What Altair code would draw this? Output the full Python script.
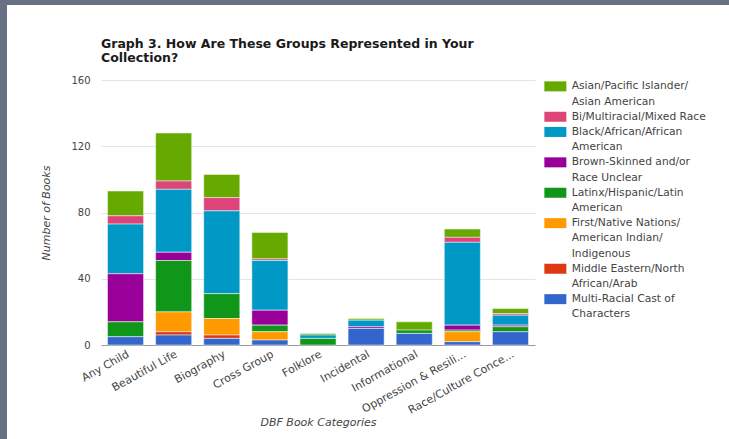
import altair as alt
import pandas as pd

categories = ["Any Child", "Beautiful Life", "Biography", "Cross Group", "Folklore",
              "Incidental", "Informational", "Oppression & Resili...", "Race/Culture Conce..."]

# '|' marks the line breaks of the legend labels
groups = ["Asian/Pacific Islander/|Asian American",
          "Bi/Multiracial/Mixed Race",
          "Black/African/African|American",
          "Brown-Skinned and/or|Race Unclear",
          "Latinx/Hispanic/Latin|American",
          "First/Native Nations/|American Indian/|Indigenous",
          "Middle Eastern/North|African/Arab",
          "Multi-Racial Cast of|Characters"]

colors = ["#66aa00", "#dd4477", "#0099c6", "#990099", "#109618", "#ff9900", "#dc3912", "#3366cc"]

asian    = [15, 29, 14, 16, 1, 1, 5, 5, 3]
bi       = [5, 5, 8, 1, 0, 0, 0, 3, 1]
black    = [30, 38, 50, 30, 2, 4, 0, 50, 6]
brown    = [29, 5, 0, 9, 0, 1, 0, 3, 1]
latinx   = [9, 31, 15, 4, 4, 0, 2, 1, 3]
native   = [0, 12, 10, 5, 0, 0, 0, 6, 0]
mideast  = [0, 2, 2, 0, 0, 0, 0, 0, 0]
multi    = [5, 6, 4, 3, 0, 10, 7, 2, 8]

series = [asian, bi, black, brown, latinx, native, mideast, multi]

rows = []
for i, (g, vals) in enumerate(zip(groups, series)):
    for c, v in zip(categories, vals):
        if v > 0:
            rows.append({"category": c, "group": g, "count": v, "rank": i})
df = pd.DataFrame(rows)

# legend: one entry per text line (continuation lines get no swatch)
legend_domain, legend_range = [], []
for g, col in zip(groups, colors):
    legend_domain.append(g)
    legend_range.append(col)
    for k in range(1, len(g.split("|"))):
        legend_domain.append(f"{g}||{k}")
        legend_range.append("rgba(0,0,0,0)")

label_expr = ("indexof(datum.label, '||') >= 0 ? "
              "split(split(datum.label, '||')[0], '|')[toNumber(split(datum.label, '||')[1])] : "
              "split(datum.label, '|')[0]")

W, H = 434, 265
FONT = "DejaVu Sans"
TXT = "#444444"

bars = alt.Chart(df).mark_bar(stroke="white", strokeWidth=0.5).encode(
    x=alt.X("category:N", sort=categories,
            scale=alt.Scale(paddingInner=0.25, paddingOuter=0.135),
            axis=alt.Axis(title="DBF Book Categories", labelAngle=-29, labelAlign="right",
                          labelBaseline="top", labelPadding=3, ticks=False,
                          domainColor="#999999", domainWidth=1,
                          labelFont=FONT, labelFontSize=11, labelColor=TXT,
                          titleFont=FONT, titleFontSize=11, titleFontStyle="italic",
                          titleFontWeight="normal", titleColor=TXT,
                          titleX=W / 2, titleY=77, titleBaseline="middle")),
    y=alt.Y("count:Q", stack="zero", scale=alt.Scale(domain=[0, 160], nice=False),
            axis=alt.Axis(title="Number of Books", values=[0, 40, 80, 120, 160],
                          domain=False, ticks=False, labelPadding=11,
                          gridColor="#e4e4e4", gridWidth=1,
                          labelFont=FONT, labelFontSize=10, labelColor=TXT,
                          titleFont=FONT, titleFontSize=11, titleFontStyle="italic",
                          titleFontWeight="normal", titleColor=TXT,
                          titleX=-50, titleY=H / 2, titleAngle=270)),
    color=alt.Color("group:N",
                    scale=alt.Scale(domain=legend_domain, range=legend_range),
                    legend=alt.Legend(title=None, orient="none", legendX=449, legendY=1,
                                      symbolType="M-2.2,-1H2.2V1H-2.2Z", symbolSize=100,
                                      symbolStrokeWidth=0,
                                      labelExpr=label_expr,
                                      labelFont=FONT, labelFontSize=10.7, labelColor=TXT,
                                      labelOffset=11, labelLimit=250,
                                      rowPadding=3.2)),
    order=alt.Order("rank:Q", sort="descending"),
)

frame_df = pd.DataFrame({"a": [0]})
left_strip = alt.Chart(frame_df).mark_rect(color="#687084").encode(
    x=alt.value(-101), x2=alt.value(-94), y=alt.value(-80), y2=alt.value(359))
top_strip = alt.Chart(frame_df).mark_rect(color="#687084").encode(
    x=alt.value(-101), x2=alt.value(628), y=alt.value(-80), y2=alt.value(-75))

chart = alt.layer(bars, left_strip, top_strip).properties(
    width=W, height=H,
    autosize=alt.AutoSizeParams(type="none"),
    padding={"left": 101, "top": 80, "right": 194, "bottom": 94},
    background="white",
    title=alt.TitleParams(text=["Graph 3. How Are These Groups Represented in Your", "Collection?"],
                          anchor="start", font=FONT, fontSize=12.5, fontWeight="bold",
                          color="#1a1a1a", lineHeight=14, offset=-64, dx=101),
).configure_view(stroke=None)

chart.save("out.html", embed_options={"renderer": "svg", "actions": False})
